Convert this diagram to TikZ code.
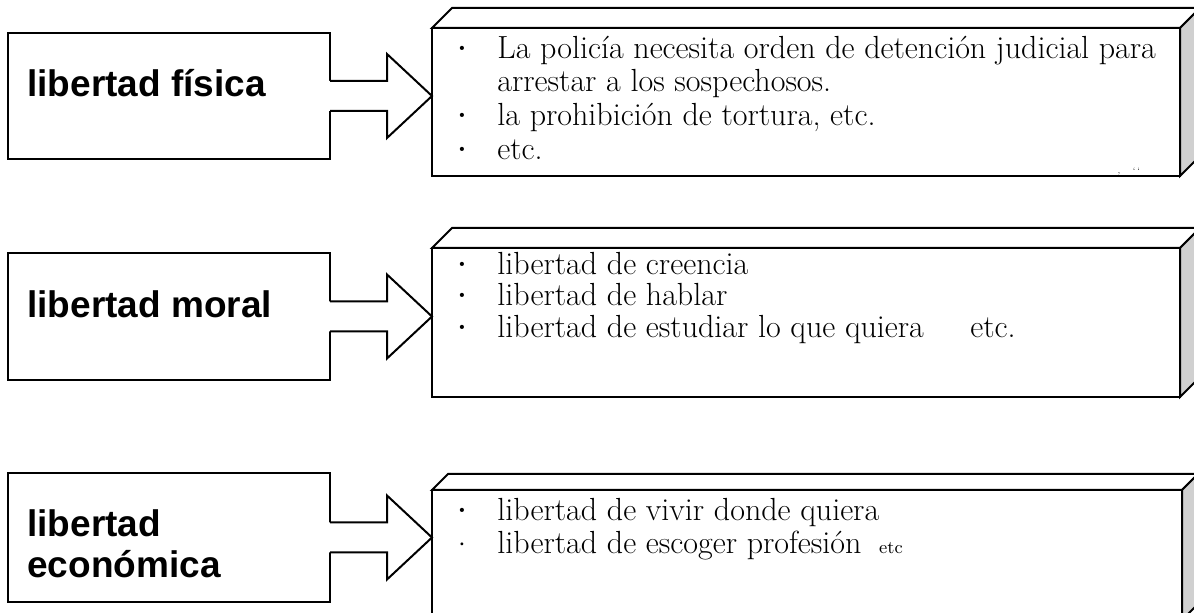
\documentclass[tikz,border=0pt]{standalone}
\usepackage{fontspec}
\newfontfamily\arialfont{Liberation Sans}
\usetikzlibrary{calc}
\definecolor{sidegray}{RGB}{208,208,208}
\begin{document}
\begin{tikzpicture}[x=0.5pt,y=-0.5pt,line join=miter,
  frame/.style={draw=black,line width=1pt,fill=white,inner sep=0pt,outer sep=0pt,anchor=north west},
  topface/.style={draw=black,line width=1pt,fill=white},
  sideface/.style={draw=black,line width=1pt,fill=sidegray},
  lab/.style={font=\arialfont\bfseries\fontsize{18.5}{20}\selectfont,anchor=base west,inner sep=0pt},
  txt/.style={font=\fontsize{16}{17}\selectfont,anchor=base west,inner sep=0pt},
  bul/.style={font=\fontsize{7}{7}\selectfont,inner sep=0pt},
  bigarrow/.pic={
    \fill[white] (-1.5,-15) -- (57,-15) -- (57,-42) -- (102,0) -- (57,42) -- (57,15) -- (-1.5,15) -- cycle;
    \draw[line width=1pt] (0,-15) -- (57,-15) -- (57,-42) -- (102,0) -- (57,42) -- (57,15) -- (0,15);
  }]
\useasboundingbox (0,0) rectangle (1194,613);
\clip (0,0) rectangle (1194,613);

% left boxes
\node[frame,minimum width=161pt,minimum height=63pt] (L1) at (8,33) {};
\node[frame,minimum width=161pt,minimum height=63.5pt] (L2) at (8,253) {};
\node[frame,minimum width=161pt,minimum height=64.5pt] (L3) at (8,473) {};

% right 3D boxes
\node[frame,minimum width=374pt,minimum height=74pt] (R1) at (432,28) {};
\draw[topface] (R1.north west) -- ++(20,-20) -- ($(R1.north east)+(20,-20)$) -- (R1.north east) -- cycle;
\draw[sideface] (R1.north east) -- ++(20,-20) -- ($(R1.south east)+(20,-20)$) -- (R1.south east) -- cycle;

\node[frame,minimum width=374pt,minimum height=74.5pt] (R2) at (432,248) {};
\draw[topface] (R2.north west) -- ++(20,-20) -- ($(R2.north east)+(20,-20)$) -- (R2.north east) -- cycle;
\draw[sideface] (R2.north east) -- ++(20,-20) -- ($(R2.south east)+(20,-20)$) -- (R2.south east) -- cycle;

\node[frame,minimum width=375pt,minimum height=65pt] (R3) at (432,490) {};
\draw[topface] (R3.north west) -- ++(16,-16) -- ($(R3.north east)+(16,-16)$) -- (R3.north east) -- cycle;
\draw[sideface] (R3.north east) -- ++(16,-16) -- ($(R3.south east)+(16,-16)$) -- (R3.south east) -- cycle;

% arrows
\pic at (L1.east) {bigarrow};
\pic at (L2.east) {bigarrow};
\pic at (L3.east) {bigarrow};

% left labels
\node[lab] (t1) at (27,97) {libertad física};
\node[lab] (t2) at (27,318) {libertad moral};
\node[lab] (t3a) at (27,537) {libertad};
\node[lab] (t3b) at (27,578) {económica};

% box 1 text
\node[bul] (b11) at (462,49) {\textbullet};
\node[txt] (a11) at (497,59) {La policía necesita orden de detención judicial para};
\node[txt] (a12) at (497,92) {arrestar a los sospechosos.};
\node[bul] (b13) at (462,116) {\textbullet};
\node[txt] (a13) at (497,126) {la prohibición de tortura, etc.};
\node[bul] (b14) at (462,150) {\textbullet};
\node[txt] (a14) at (497,160) {etc.};
\node[font=\fontsize{4}{4}\selectfont,anchor=base west,inner sep=0pt] (mk) at (1117,174) {,\hspace{6pt}`\,`};

% box 2 text
\node[bul] (b21) at (462,265) {\textbullet};
\node[txt] (a21) at (497,275) {libertad de creencia};
\node[bul] (b22) at (462,296) {\textbullet};
\node[txt] (a22) at (497,306) {libertad de hablar};
\node[bul] (b23) at (462,328) {\textbullet};
\node[txt] (a23) at (497,338) {libertad de estudiar lo que quiera};
\node[txt] (a23b) at (970,338) {etc.};

% box 3 text
\node[bul] (b31) at (462,511) {\textbullet};
\node[txt] (a31) at (497,521) {libertad de vivir donde quiera};
\node[bul,font=\fontsize{5}{5}\selectfont] (b32) at (462,545) {\textbullet};
\node[txt] (a32) at (497,554) {libertad de escoger profesión\hspace{0.55em}{\fontsize{9}{10}\selectfont etc}};
\end{tikzpicture}
\end{document}
